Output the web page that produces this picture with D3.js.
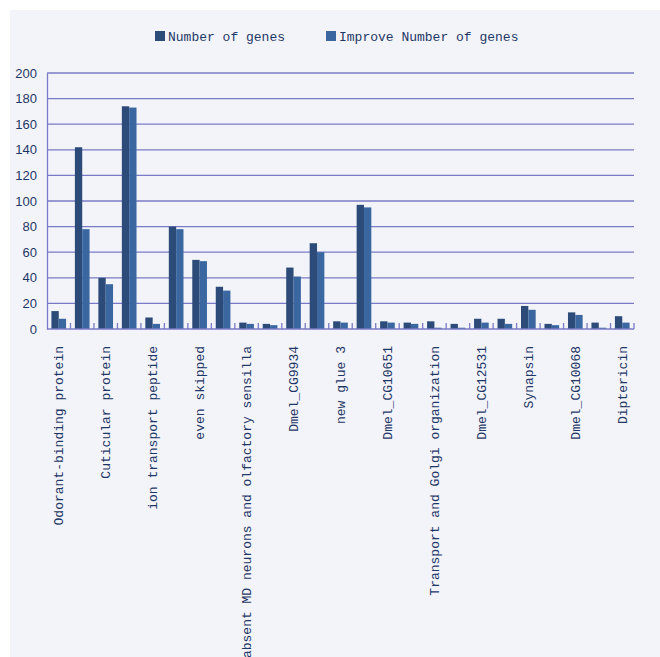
<!DOCTYPE html>
<html>
<head>
<meta charset="utf-8">
<script src="https://cdn.jsdelivr.net/npm/d3@7/dist/d3.min.js"></script>
<style>
  html, body { margin: 0; padding: 0; background: #ffffff; }
  svg { display: block; }
</style>
</head>
<body>
<svg id="chart" width="660" height="657"></svg>
<script>
// ---- data ----
const categories = [
  "Odorant-binding protein", "Category 2",
  "Cuticular protein", "Category 4",
  "ion transport peptide", "Category 6",
  "even skipped", "Category 8",
  "absent MD neurons and olfactory sensilla", "Category 10",
  "Dmel_CG9934", "Category 12",
  "new glue 3", "Category 14",
  "Dmel_CG10651", "Category 16",
  "Transport and Golgi organization", "Category 18",
  "Dmel_CG12531", "Category 20",
  "Synapsin", "Category 22",
  "Dmel_CG10068", "Category 24",
  "Diptericin"
];
const seriesNames = ["Number of genes", "Improve Number of genes"];
const numberOfGenes =        [14, 142, 40, 174, 9, 80, 54, 33, 5, 4, 48, 67, 6, 97, 6, 5, 6, 4, 8, 8, 18, 4, 13, 5, 10];
const improveNumberOfGenes = [ 8,  78, 35, 173, 4, 78, 53, 30, 4, 3, 41, 60, 5, 95, 5, 4, 1, 1, 5, 4, 15, 3, 11, 1,  5];
const yTicks = [0, 20, 40, 60, 80, 100, 120, 140, 160, 180, 200];

// ---- layout ----
const svg = d3.select("#chart");
const W = 660, H = 657;
const plot = { left: 47, right: 634, top: 73, bottom: 329 };
const colors = ["#2c4b78", "#3a67a0"];
const gridColor = "#7a7ac6";
const textColor = "#1f3766";
const monoFont = "'Liberation Mono', 'DejaVu Sans Mono', monospace";

svg.append("rect").attr("x", 10).attr("y", 10).attr("width", W - 10).attr("height", H - 10)
  .attr("fill", "#f3f4fa");

const x0 = d3.scaleBand().domain(categories).range([plot.left, plot.right]).paddingInner(0).paddingOuter(0);
const x1 = d3.scaleBand().domain(seriesNames).range([0, x0.bandwidth()]).paddingOuter(0.6).paddingInner(0);
const y = d3.scaleLinear().domain([0, 200]).range([plot.bottom, plot.top]);

// gridlines
svg.append("g").selectAll("line").data(yTicks.filter(d => d > 0)).join("line")
  .attr("x1", plot.left).attr("x2", plot.right)
  .attr("y1", d => y(d)).attr("y2", d => y(d))
  .attr("stroke", gridColor).attr("stroke-width", 1.3);

// y axis labels
const yAxis = d3.axisLeft(y).tickValues(yTicks).tickSize(0).tickPadding(10);
const yg = svg.append("g").attr("transform", `translate(${plot.left},0)`).call(yAxis);
yg.select(".domain").attr("stroke", gridColor).attr("stroke-width", 1.3);
yg.selectAll("text").attr("fill", textColor)
  .style("font-family", "'Liberation Sans', Arial, sans-serif").style("font-size", "13px");

// bars
const seriesData = [numberOfGenes, improveNumberOfGenes];
seriesData.forEach((vals, si) => {
  svg.append("g").selectAll("rect").data(vals).join("rect")
    .attr("x", (d, i) => x0(categories[i]) + x1(seriesNames[si]))
    .attr("width", x1.bandwidth())
    .attr("y", d => y(d))
    .attr("height", d => y(0) - y(d))
    .attr("fill", colors[si]);
});

// x axis baseline and inner ticks
const xg = svg.append("g");
xg.append("line").attr("x1", plot.left).attr("x2", plot.right)
  .attr("y1", y(0)).attr("y2", y(0)).attr("stroke", gridColor).attr("stroke-width", 1.3);
const boundaries = categories.map(c => x0(c) + x0.bandwidth()).slice(0);
xg.selectAll("line.tick").data(boundaries).join("line").attr("class", "tick")
  .attr("x1", d => d).attr("x2", d => d)
  .attr("y1", y(0)).attr("y2", y(0) - 6)
  .attr("stroke", gridColor).attr("stroke-width", 1.3);

// x labels (every other category)
const xAxis = d3.axisBottom(x0).tickValues(categories.filter((d, i) => i % 2 === 0)).tickSize(0).tickPadding(0);
const xl = svg.append("g").attr("transform", `translate(0,${plot.bottom})`).call(xAxis);
xl.select(".domain").remove();
xl.selectAll("text")
  .attr("transform", "rotate(-90)")
  .attr("x", -17).attr("y", 0).attr("dy", "0.35em")
  .attr("text-anchor", "end")
  .attr("fill", textColor)
  .style("font-family", monoFont).style("font-size", "13px");

// legend
const legendPos = [155, 326];
const lg = svg.append("g");
seriesNames.forEach((name, i) => {
  lg.append("rect").attr("x", legendPos[i]).attr("y", 31).attr("width", 10).attr("height", 10).attr("fill", colors[i]);
  lg.append("text").attr("x", legendPos[i] + 13).attr("y", 41)
    .attr("fill", textColor).style("font-family", monoFont).style("font-size", "13px").text(name);
});
</script>
</body>
</html>
